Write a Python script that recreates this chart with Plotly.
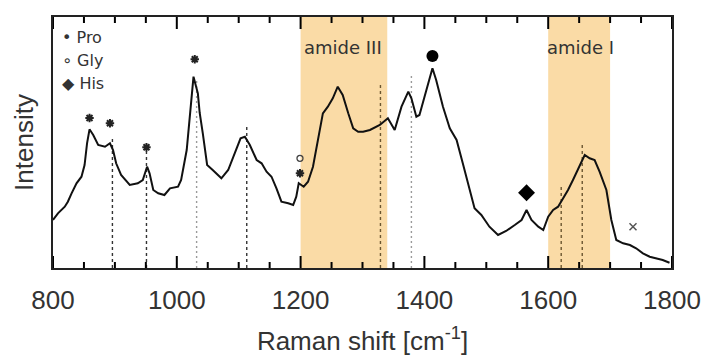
import plotly.graph_objects as go

# ---- data ----
shift = [800, 808, 819, 824, 830, 838, 846, 851, 855, 859, 865, 873, 884, 892, 897, 902, 910, 924, 937, 945,
         952, 956, 962, 970, 980, 989, 1002, 1007, 1016, 1021, 1027, 1034, 1037, 1042, 1049, 1058, 1072, 1083,
         1094, 1103, 1110, 1118, 1129, 1137, 1145, 1153, 1161, 1169, 1180, 1188, 1193, 1197, 1205, 1212, 1220,
         1228, 1236, 1244, 1252, 1260, 1268, 1277, 1285, 1293, 1301, 1312, 1328, 1341, 1352, 1363, 1374, 1379,
         1387, 1392, 1402, 1413, 1419, 1430, 1441, 1452, 1462, 1473, 1481, 1492, 1505, 1519, 1532, 1546, 1557,
         1565, 1573, 1584, 1592, 1600, 1608, 1616, 1624, 1632, 1640, 1651, 1659, 1667, 1675, 1683, 1694, 1702,
         1710, 1721, 1732, 1742, 1753, 1764, 1774, 1785, 1796]
intensity = [48, 54.7, 61.3, 66.3, 74.7, 84.7, 91.3, 103, 124.7, 138.7, 133, 123, 121.3, 124.7, 118, 104.7, 93,
             83, 84.7, 88, 101.3, 94.7, 78, 74.7, 73, 79.7, 81.3, 88, 118, 151.3, 191.3, 174.7, 155, 134.7, 103,
             98, 89.7, 98, 114.7, 129.7, 131.3, 123, 108, 104.7, 96.3, 91.3, 79.7, 66.3, 64.7, 63, 71.3, 84.7,
             81.3, 86.3, 101.3, 128, 154.7, 161.3, 169.7, 181.3, 173, 154.7, 139.7, 136.3, 136.3, 138, 143, 149.7,
             138, 161.3, 176.3, 169.7, 151.3, 153, 174.7, 199.7, 188, 161.3, 139.7, 128, 104.7, 78, 59.7, 53,
             41.3, 33, 37, 43, 48, 58, 48, 41.3, 38, 51.3, 58, 61.3, 69.7, 78, 88, 103, 113, 109.7, 108, 96.3,
             78, 48, 28, 24.7, 23, 19.7, 14.7, 11.3, 9.7, 8, 5.3]

amide_regions = [(1200, 1340), (1600, 1700)]
amide_labels = ["amide III", "amide I"]
amide_label_x = [1268, 1652]

dash_x = [896, 951, 1113]
dash_top = [131, 118, 142]
dot_x = [1032, 1379]
dot_top = [190, 193]
band_x = [1329, 1621, 1655]
band_top = [183, 83, 123]

pro_x = [859, 892, 951, 1029, 1199]
pro_y = [150, 144.7, 120.7, 208.7, 94.7]
gly_x = [1199]
gly_y = [109.7]
his_x = [1565]
his_y = [75.3]
dot_mark_x = [1413]
dot_mark_y = [212]
x_mark_x = [1737]
x_mark_y = [41.3]

legend_items = ["\u2022 Pro", "\u2218 Gly", "\u25c6 His"]

x_range = [800, 1800]
major_step, minor_step = 200, 50

# inward tick lengths as fractions of the plot height (plot area 251 px tall)
MAJOR_LEN, MINOR_LEN = 12 / 251, 6 / 251


def vlines(xs, tops):
    xx, yy = [], []
    for x, t in zip(xs, tops):
        xx += [x, x, None]
        yy += [0, t, None]
    return xx, yy


fig = go.Figure()

for (x0, x1) in amide_regions:
    fig.add_shape(type="rect", xref="x", yref="paper", x0=x0, x1=x1, y0=0, y1=1,
                  fillcolor="#FADBA6", line_width=0, layer="below")

# inward ticks on bottom and top frame, positioned through the x axis scale
v = x_range[0]
while v <= x_range[1]:
    is_major = (v - x_range[0]) % major_step == 0
    ln = MAJOR_LEN if is_major else MINOR_LEN
    for y0, y1 in [(0, ln), (1, 1 - ln)]:
        fig.add_shape(type="line", xref="x", yref="paper", x0=v, x1=v, y0=y0, y1=y1,
                      line=dict(color="#000", width=2), layer="above")
    v += minor_step

for xs, ts, col, dash in [(dash_x, dash_top, "#333333", "3px,3px"),
                          (dot_x, dot_top, "#9a9a9a", "2px,3px"),
                          (band_x, band_top, "#6b5630", "3px,3px")]:
    vx, vy = vlines(xs, ts)
    fig.add_trace(go.Scatter(x=vx, y=vy, mode="lines",
                             line=dict(color=col, width=1.4, dash=dash), hoverinfo="skip"))

fig.add_trace(go.Scatter(x=shift, y=intensity, mode="lines",
                         line=dict(color="#111111", width=2)))

fig.add_trace(go.Scatter(x=pro_x, y=pro_y, mode="markers",
                         marker=dict(symbol="asterisk-open", size=7, color="#222",
                                     line=dict(color="#222", width=2))))
fig.add_trace(go.Scatter(x=gly_x, y=gly_y, mode="markers",
                         marker=dict(symbol="circle-open", size=6, color="#444",
                                     line=dict(color="#444", width=1.3))))
fig.add_trace(go.Scatter(x=his_x, y=his_y, mode="markers",
                         marker=dict(symbol="diamond", size=13, color="#000")))
fig.add_trace(go.Scatter(x=dot_mark_x, y=dot_mark_y, mode="markers",
                         marker=dict(symbol="circle", size=12, color="#000")))
fig.add_trace(go.Scatter(x=x_mark_x, y=x_mark_y, mode="markers",
                         marker=dict(symbol="x-thin-open", size=7, color="#555",
                                     line=dict(color="#555", width=1.5))))

for lab, lx in zip(amide_labels, amide_label_x):
    fig.add_annotation(x=lx, xref="x", y=0.88, yref="paper", text=lab, showarrow=False,
                       font=dict(family="DejaVu Sans", size=18, color="#333"), xanchor="center", yanchor="middle")

for i, lab in enumerate(legend_items):
    fig.add_annotation(x=0.012, xref="paper", y=0.92 - i * 0.093, yref="paper", text=lab, showarrow=False,
                       font=dict(family="DejaVu Sans", size=16, color="#333"), xanchor="left", yanchor="middle")

fig.update_layout(
    width=708, height=356,
    margin=dict(l=53, r=36, t=17, b=88),
    plot_bgcolor="white", paper_bgcolor="white",
    showlegend=False,
    font=dict(family="Liberation Sans", color="#222"),
    xaxis=dict(range=x_range, tickmode="linear", tick0=x_range[0], dtick=major_step, ticks="",
               showline=True, linecolor="#222", linewidth=1.8, mirror=True,
               showgrid=False, zeroline=False, automargin=False, ticklabelstandoff=8,
               tickfont=dict(size=26, color="#333"),
               title=dict(text="Raman shift [cm<sup>-1</sup>]", font=dict(size=26, color="#333"), standoff=24)),
    yaxis=dict(range=[0, 251], showticklabels=False, ticks="", showline=True, linecolor="#222", linewidth=1.8,
               mirror=True, showgrid=False, zeroline=False, automargin=False,
               title=dict(text="Intensity", font=dict(size=26, color="#333"), standoff=10)),
)

fig.write_html("out.html")
